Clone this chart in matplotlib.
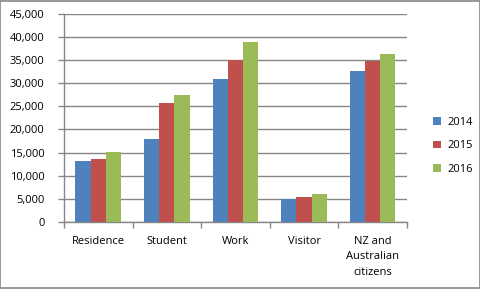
import matplotlib.pyplot as plt
import numpy as np
from matplotlib.patches import Rectangle

categories = ['Residence', 'Student', 'Work', 'Visitor', 'NZ and\nAustralian\ncitizens']
years = ['2014', '2015', '2016']
v2014 = [13200, 18000, 30900, 4900, 32700]
v2015 = [13600, 25700, 35000, 5300, 34800]
v2016 = [15100, 27500, 38900, 6100, 36300]
colors = ['#4F81BD', '#C0504D', '#9BBB59']

plt.rcParams['font.family'] = ['Open Sans', 'DejaVu Sans']
grey = '#868686'

fig = plt.figure(figsize=(4.81, 2.89), dpi=100)
ax = fig.add_axes([0.133, 0.232, 0.713, 0.72])

x = np.arange(len(categories))
w = 1 / 4.5
for i, (vals, yr) in enumerate(zip([v2014, v2015, v2016], years)):
    ax.bar(x + (i - 1) * w, vals, w, color=colors[i], label=yr, zorder=3)

ax.set_xlim(-0.5, len(categories) - 0.5)
ax.set_ylim(0, 45000)
ax.set_yticks(np.arange(0, 45001, 5000))
ax.set_yticklabels([f'{int(v):,}' for v in np.arange(0, 45001, 5000)], fontsize=8)
ax.yaxis.grid(True, color=grey, linewidth=1, zorder=0)
ax.set_xticks(x)
ax.set_xticklabels(categories, fontsize=8, linespacing=1.55, va='top')
ax.set_xticks(np.arange(-0.5, len(categories)), minor=True)
ax.tick_params(axis='x', which='major', length=0, pad=10)
ax.tick_params(axis='x', which='minor', length=4, color=grey, width=1)
ax.tick_params(axis='y', length=4, color=grey, width=1, pad=10)
for s in ['top', 'right']:
    ax.spines[s].set_visible(False)
for s in ['left', 'bottom']:
    ax.spines[s].set_color(grey)
    ax.spines[s].set_linewidth(1)

ax.legend(loc='center left', bbox_to_anchor=(0.88, 0.495), bbox_transform=fig.transFigure,
          frameon=False, fontsize=8, handlelength=0.7, handleheight=0.7,
          labelspacing=1.15, handletextpad=0.6)

fig.patches.append(Rectangle((0.001, 0.002), 0.997, 0.995, transform=fig.transFigure,
                             fill=False, edgecolor=grey, linewidth=1.2))

fig.savefig('out.png', dpi=100)
